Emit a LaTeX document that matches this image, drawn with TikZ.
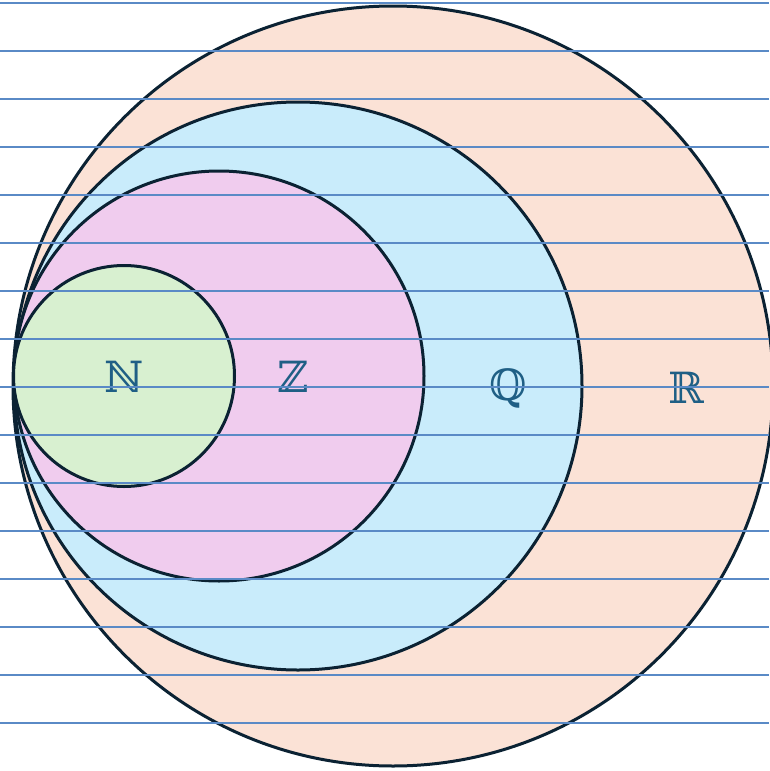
\documentclass[tikz,border=0pt]{standalone}
\usepackage{fontspec}
\newfontfamily\bbfont{DejaVu Serif}
\usepackage{tikz}

\definecolor{ringline}{HTML}{0B2233}
\definecolor{ruleline}{HTML}{5A8AC6}
\definecolor{setlabel}{HTML}{1F5F85}
\definecolor{fillR}{HTML}{FBE2D6}
\definecolor{fillQ}{HTML}{C9ECFB}
\definecolor{fillZ}{HTML}{F0CCEE}
\definecolor{fillN}{HTML}{D8F0D0}

\begin{document}
\begin{tikzpicture}[x=1pt,y=-1pt]
		\tikzset{setring/.style={draw=ringline, line width=3pt}};
		\tikzset{setname/.style={text=setlabel, font=\bbfont\fontsize{43}{43}\selectfont}};
		\useasboundingbox (0,0) rectangle (769,771);
		\filldraw[setring, fill=fillR] (393,386) circle(380);
		\filldraw[setring, fill=fillQ] (298,386) circle(284);
		\filldraw[setring, fill=fillZ] (219,376) circle(205);
		\filldraw[setring, fill=fillN] (124,376) circle(110.5);
		\node[setname] (nat) at (124,377) {ℕ};
		\node[setname] (int) at (293,377) {ℤ};
		\node[setname] (rat) at (508,388) {ℚ};
		\node[setname] (real) at (686,388) {ℝ};
		\foreach \k in {0,...,15}
			\draw[ruleline, line width=2.6pt] (0,3+48*\k)--(769,3+48*\k);
	\end{tikzpicture}
\end{document}
